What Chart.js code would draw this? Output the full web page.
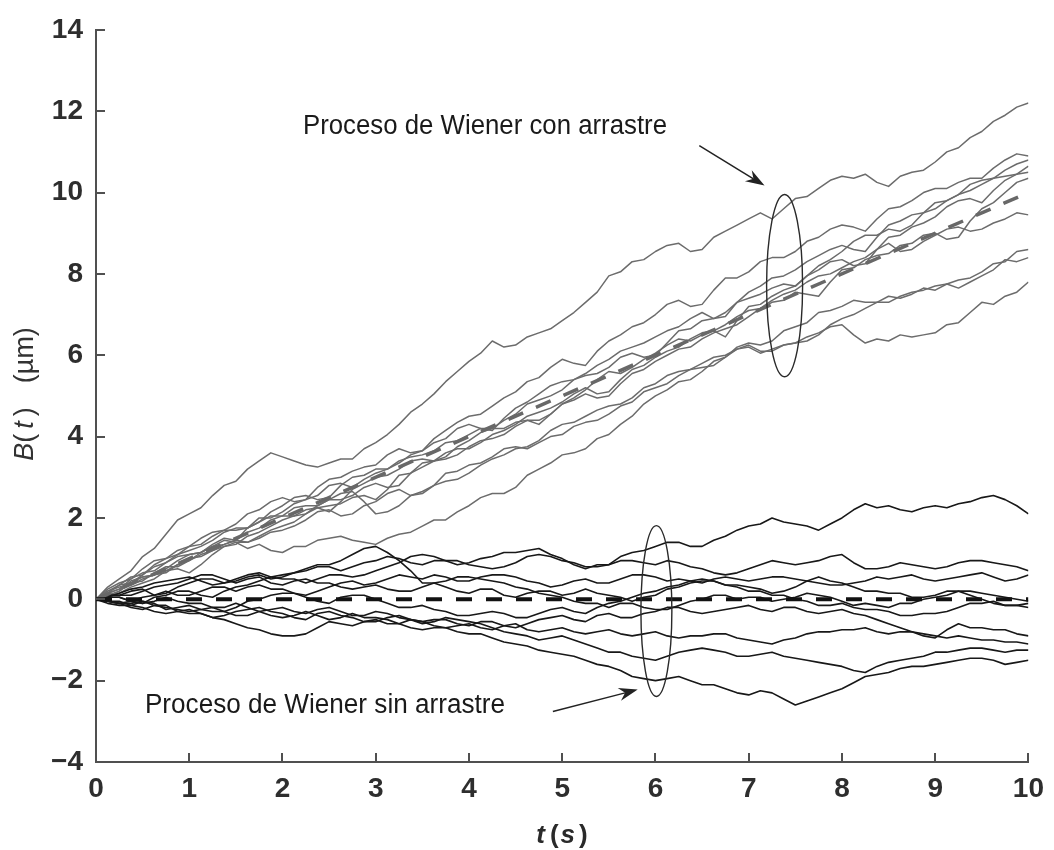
<!DOCTYPE html>
<html><head><meta charset="utf-8">
<script src="https://cdn.jsdelivr.net/npm/chart.js@4.4.1/dist/chart.umd.min.js"></script>
<style>html,body{margin:0;padding:0;background:#fff}#wrap{width:1054px;height:850px}</style>
</head><body><div id="wrap"><canvas id="c" width="1054" height="850"></canvas></div>
<script>
// ---- data (time in s, B(t) in µm) ----
const times = [0,0.125,0.25,0.375,0.5,0.625,0.75,0.875,1,1.125,1.25,1.375,1.5,1.625,1.75,1.875,2,2.125,2.25,2.375,2.5,2.625,2.75,2.875,3,3.125,3.25,3.375,3.5,3.625,3.75,3.875,4,4.125,4.25,4.375,4.5,4.625,4.75,4.875,5,5.125,5.25,5.375,5.5,5.625,5.75,5.875,6,6.125,6.25,6.375,6.5,6.625,6.75,6.875,7,7.125,7.25,7.375,7.5,7.625,7.75,7.875,8,8.125,8.25,8.375,8.5,8.625,8.75,8.875,9,9.125,9.25,9.375,9.5,9.625,9.75,9.875,10];

// Wiener process with drift (grey)
const drift1 = [0,0.3,0.5,0.7,1.05,1.25,1.6,1.95, 2.1,2.25,2.55,2.8,2.9,3.2,3.4,3.6, 3.5,3.4,3.3,3.25,3.35,3.45,3.45,3.7, 3.85,4.05,4.3,4.6,4.8,5.05,5.35,5.6, 5.85,6.05,6.35,6.2,6.25,6.45,6.55,6.65, 6.85,7.05,7.3,7.55,7.95,8.05,8.3,8.35, 8.55,8.7,8.75,8.55,8.6,8.9,9.05,9.2, 9.35,9.5,9.35,9.6,9.85,9.9,10.1,10.3, 10.4,10.35,10.45,10.25,10.15,10.4,10.5,10.55, 10.75,11.0,11.1,11.35,11.5,11.75,11.9,12.1, 12.2];
const drift2 = [0,0.15,0.35,0.55,0.6,0.8,0.9,1.05, 1.1,1.15,1.3,1.45,1.4,1.25,1.35,1.2, 1.15,1.3,1.3,1.45,1.5,1.55,1.45,1.4, 1.35,1.5,1.6,1.65,1.8,1.95,1.95,2.15, 2.3,2.5,2.6,2.6,2.75,3.05,3.2,3.35, 3.55,3.6,3.7,3.95,4.05,4.3,4.5,4.8, 5.0,5.15,5.35,5.4,5.6,5.85,5.95,6.15, 6.25,6.1,6.1,6.25,6.3,6.45,6.55,6.7, 6.75,6.5,6.3,6.4,6.35,6.5,6.45,6.5, 6.55,6.75,6.8,7.05,7.3,7.25,7.45,7.55, 7.8];
const drift3 = [0,0.25,0.4,0.5,0.75,0.95,1.0,1.2, 1.3,1.35,1.55,1.7,1.7,1.75,1.9,2.05, 2.05,2.25,2.3,2.3,2.45,2.6,2.65,2.4, 2.1,2.15,2.3,2.55,2.65,2.8,3.1,3.15, 3.3,3.35,3.5,3.7,3.75,3.7,3.85,4.0, 4.05,4.25,4.35,4.4,4.55,4.75,4.85,5.1, 5.2,5.3,5.5,5.65,5.7,5.75,5.95,6.2, 6.3,6.25,6.35,6.6,6.7,6.8,7.05,7.1, 7.2,7.35,7.3,7.3,7.45,7.4,7.5,7.65, 7.6,7.75,7.85,7.9,8.05,8.25,8.3,8.55, 8.6];
const drift4 = [0,0.05,0.2,0.4,0.55,0.6,0.7,0.85, 0.95,1.1,1.2,1.35,1.45,1.4,1.5,1.65, 1.7,1.8,1.95,2.15,2.2,2.05,2.1,2.3, 2.4,2.6,2.7,2.55,2.6,2.8,2.9,2.95, 3.1,3.3,3.45,3.55,3.7,3.75,3.9,4.15, 4.3,4.35,4.5,4.65,4.75,4.8,4.95,5.2, 5.3,5.5,5.6,5.65,5.8,5.95,6.0,6.15, 6.2,6.05,6.15,6.25,6.3,6.35,6.5,6.75, 6.9,7.0,7.15,7.3,7.3,7.45,7.55,7.6, 7.7,7.75,7.65,7.8,7.95,8.1,8.35,8.3, 8.4];
const drift5 = [0,0.2,0.35,0.4,0.6,0.85,1.0,1.1, 1.3,1.5,1.65,1.7,1.85,2.1,2.2,2.4, 2.5,2.4,2.45,2.75,2.95,3.0,3.15,3.25, 3.3,3.55,3.7,3.6,3.65,3.95,4.15,4.35, 4.5,4.55,4.75,4.95,5.1,5.35,5.45,5.7, 5.9,5.8,5.75,6.1,6.35,6.5,6.7,6.8, 7.0,7.25,7.35,7.2,7.25,7.6,7.9,7.9, 8.05,8.3,8.4,8.4,8.55,8.8,8.9,9.1, 9.2,9.15,9.05,9.35,9.6,9.65,9.8,10.0, 10.1,10.1,10.25,10.35,10.35,10.6,10.8,10.95, 10.9];
const drift6 = [0,0.1,0.2,0.45,0.55,0.6,0.75,0.95, 1.1,1.15,1.35,1.5,1.45,1.75,2.0,2.0, 2.15,2.35,2.45,2.55,2.8,2.85,2.75,2.95, 3.1,3.2,3.4,3.5,3.55,3.65,3.85,3.9, 4.05,4.2,4.2,4.4,4.55,4.8,4.9,5.0, 5.15,5.4,5.5,5.55,5.7,5.95,6.05,5.95, 6.0,6.3,6.6,6.65,6.85,6.9,7.05,7.3, 7.4,7.5,7.65,7.75,7.7,7.95,8.2,8.35, 8.55,8.8,8.95,8.95,9.1,9.05,9.2,9.5, 9.75,9.8,9.95,10.2,10.3,10.35,10.55,10.7, 10.8];
const drift7 = [0,0.15,0.25,0.4,0.45,0.65,0.8,0.8, 0.95,1.15,1.3,1.35,1.45,1.65,1.75,1.95, 2.05,2.05,2.2,2.25,2.15,2.4,2.7,2.85, 3.0,3.05,3.2,3.4,3.45,3.4,3.5,3.75, 3.9,4.1,4.2,4.2,4.35,4.4,4.3,4.55, 4.8,4.95,5.15,5.4,5.6,5.55,5.7,5.9, 6.05,6.25,6.4,6.35,6.5,6.6,6.45,6.85, 7.2,7.25,7.45,7.6,7.7,7.95,8.1,8.3, 8.35,8.2,8.25,8.6,8.9,8.95,9.15,9.25, 9.4,9.65,9.8,9.85,9.75,10.05,10.3,10.45, 10.65];
const drift8 = [0,0.1,0.15,0.3,0.4,0.5,0.7,0.75, 0.65,0.85,1.1,1.3,1.4,1.4,1.55,1.7, 1.8,1.9,2.1,2.25,2.3,2.35,2.5,2.55, 2.45,2.7,3.05,3.1,3.25,3.4,3.45,3.55, 3.75,3.9,3.95,4.05,4.25,4.4,4.4,4.55, 4.8,4.9,5.05,4.95,5.0,5.3,5.55,5.65, 5.85,6.0,6.15,6.2,6.4,6.55,6.65,6.75, 6.95,7.15,7.3,7.35,7.55,7.5,7.45,7.8, 8.1,8.15,8.35,8.45,8.5,8.7,8.75,8.95, 9.0,8.85,8.9,9.3,9.6,9.75,10.0,10.25, 10.35];
const drift9 = [0,0.2,0.3,0.35,0.5,0.6,0.65,0.85, 1.0,1.05,1.2,1.3,1.35,1.55,1.65,1.8, 1.95,2.05,2.1,2.3,2.45,2.45,2.55,2.75, 2.85,2.75,2.8,3.1,3.35,3.4,3.6,3.7, 3.7,3.85,4.05,4.15,4.3,4.5,4.6,4.7, 4.85,5.05,5.2,5.05,5.1,5.4,5.65,5.75, 5.95,6.1,6.2,6.4,6.55,6.6,6.75,6.95, 7.1,7.15,7.35,7.5,7.6,7.8,7.95,8.0, 8.15,8.3,8.4,8.6,8.75,8.55,8.6,8.8, 8.95,9.1,9.15,9.05,9.1,9.25,9.35,9.5, 9.45];
const drift10 = [0,0.15,0.25,0.5,0.65,0.7,0.9,1.1, 1.2,1.3,1.45,1.65,1.75,1.75,1.9,2.15, 2.3,2.5,2.55,2.45,2.5,2.8,3.0,3.05, 3.2,3.2,3.35,3.55,3.65,3.85,3.95,4.2, 4.3,4.2,4.15,4.45,4.7,4.85,5.05,5.25, 5.35,5.4,5.55,5.75,5.9,6.1,6.2,6.3, 6.45,6.6,6.7,6.9,7.05,6.9,6.95,7.3, 7.55,7.7,7.9,7.95,8.1,8.3,8.45,8.6, 8.7,8.6,8.55,8.9,9.2,9.3,9.45,9.5, 9.6,9.8,9.95,10.05,10.2,10.35,10.4,10.45, 10.5];

// Wiener process without drift (black)
const flat1 = [0,0.1,0.1,0.2,0.25,0.1,0.15,0.3, 0.4,0.5,0.5,0.4,0.45,0.55,0.6,0.5, 0.55,0.65,0.7,0.8,0.8,0.7,0.8,0.9, 0.95,1.05,1.0,0.9,0.85,0.95,0.95,0.85, 0.9,1.0,1.05,1.15,1.15,1.2,1.25,1.1, 1.0,0.85,0.75,0.85,0.85,1.05,1.15,1.2, 1.3,1.4,1.4,1.3,1.3,1.45,1.55,1.7, 1.8,1.85,2.0,1.9,1.85,1.8,1.7,1.85, 2.0,2.2,2.35,2.25,2.3,2.2,2.15,2.25, 2.3,2.25,2.35,2.4,2.5,2.55,2.45,2.3, 2.1];
const flat2 = [0,0.05,0.15,0.25,0.3,0.4,0.45,0.5, 0.55,0.45,0.35,0.4,0.5,0.6,0.65,0.55, 0.5,0.5,0.4,0.5,0.6,0.6,0.55,0.6, 0.7,0.8,0.9,1.05,1.1,1.05,0.95,0.95, 0.85,0.8,0.75,0.8,0.9,1.05,1.1,1.05, 0.95,0.9,0.8,0.8,0.85,0.95,0.95,0.9, 0.85,0.95,0.9,0.8,0.75,0.65,0.6,0.65, 0.75,0.85,0.95,0.9,0.85,0.9,0.95,1.05, 1.1,0.9,0.75,0.75,0.8,0.9,0.85,0.8, 0.75,0.8,0.9,0.95,0.95,0.9,0.85,0.8, 0.7];
const flat3 = [0,-0.05,-0.1,-0.05,0.05,0.1,0.2,0.1, 0.1,0.2,0.3,0.3,0.2,0.3,0.35,0.25, 0.25,0.15,0.1,0.2,0.3,0.4,0.45,0.35, 0.4,0.5,0.6,0.55,0.5,0.6,0.55,0.45, 0.45,0.55,0.6,0.6,0.55,0.45,0.4,0.3, 0.35,0.45,0.5,0.4,0.4,0.5,0.6,0.6, 0.55,0.45,0.5,0.45,0.4,0.5,0.55,0.5, 0.45,0.5,0.55,0.55,0.5,0.45,0.4,0.35, 0.35,0.4,0.45,0.55,0.5,0.55,0.6,0.5, 0.45,0.5,0.55,0.6,0.65,0.55,0.45,0.5, 0.6];
const flat4 = [0,0.05,0.05,-0.05,-0.1,0.05,0.1,0.2, 0.2,0.1,0.05,0.2,0.3,0.35,0.45,0.55, 0.6,0.65,0.75,0.85,0.85,0.95,1.1,1.25, 1.3,1.15,0.95,0.7,0.4,0.4,0.3,0.2, 0.15,0.25,0.25,0.1,0.05,0.15,0.2,0.2, 0.1,0.15,0.25,0.15,0.1,0.05,-0.05,0.05, 0.1,0.25,0.3,0.4,0.45,0.45,0.35,0.3, 0.2,0.2,0.1,0.1,0,-0.05,-0.15,-0.15, -0.1,-0.2,-0.25,-0.25,-0.3,-0.4,-0.4,-0.35, -0.35,-0.3,-0.2,-0.1,-0.1,-0.05,-0.15,-0.15, -0.1];
const flat5 = [0,-0.1,-0.15,-0.15,-0.05,-0.1,-0.25,-0.2, -0.15,-0.25,-0.3,-0.3,-0.2,-0.05,0,0.1, 0.15,0.15,0.05,-0.05,-0.1,0.05,0.1,0.1, 0,-0.1,-0.2,-0.2,-0.15,-0.25,-0.3,-0.4, -0.4,-0.35,-0.3,-0.35,-0.45,-0.45,-0.35,-0.25, -0.2,-0.3,-0.35,-0.2,-0.1,-0.05,0.05,0.15, 0.2,0.3,0.35,0.45,0.5,0.45,0.35,0.35, 0.3,0.25,0.15,0.2,0.3,0.45,0.55,0.45, 0.4,0.3,0.2,0.2,0.15,0.15,0.05,0.05, 0.1,0.2,0.2,0.1,0,-0.1,-0.15,-0.15, -0.2];
const flat6 = [0,0.1,0.1,0.1,0.2,0.3,0.35,0.4, 0.5,0.6,0.6,0.5,0.4,0.5,0.55,0.4, 0.35,0.45,0.5,0.4,0.4,0.3,0.25,0.3, 0.35,0.25,0.2,0.2,0.3,0.4,0.45,0.55, 0.55,0.5,0.45,0.4,0.3,0.25,0.15,0.1, 0.05,-0.05,-0.1,-0.1,-0.2,-0.1,-0.1,-0.2, -0.25,-0.25,-0.15,-0.05,0,0.1,0.1,0, 0.05,0.05,-0.05,0,0.05,0.15,0.1,0.05, -0.05,-0.15,-0.1,-0.15,-0.2,-0.1,-0.1,0, 0.05,0.1,0.2,0.2,0.15,0.1,0.05,0, -0.05];
const flat7 = [0,-0.05,-0.1,-0.2,-0.25,-0.15,-0.15,-0.3, -0.35,-0.35,-0.45,-0.4,-0.3,-0.25,-0.2,-0.3, -0.35,-0.45,-0.5,-0.35,-0.3,-0.4,-0.45,-0.55, -0.55,-0.45,-0.4,-0.5,-0.55,-0.5,-0.5,-0.6, -0.65,-0.55,-0.55,-0.65,-0.7,-0.6,-0.5,-0.45, -0.4,-0.5,-0.55,-0.4,-0.35,-0.45,-0.45,-0.35, -0.3,-0.2,-0.2,-0.3,-0.35,-0.3,-0.25,-0.2, -0.15,-0.25,-0.3,-0.2,-0.2,-0.3,-0.35,-0.3, -0.25,-0.35,-0.4,-0.5,-0.6,-0.7,-0.8,-0.9, -0.95,-0.75,-0.6,-0.7,-0.7,-0.75,-0.75,-0.85, -0.9];
const flat8 = [0,-0.05,-0.05,-0.15,-0.2,-0.3,-0.35,-0.3, -0.25,-0.35,-0.45,-0.5,-0.6,-0.7,-0.75,-0.85, -0.9,-0.9,-0.85,-0.7,-0.55,-0.6,-0.65,-0.55, -0.5,-0.6,-0.6,-0.5,-0.55,-0.65,-0.7,-0.65, -0.6,-0.7,-0.75,-0.65,-0.6,-0.75,-0.8,-0.75, -0.7,-0.8,-0.85,-0.8,-0.75,-0.85,-0.9,-0.85, -0.8,-0.9,-0.95,-0.9,-0.9,-0.85,-0.85,-0.95, -1.0,-1.05,-1.1,-1.0,-0.95,-0.85,-0.8,-0.8, -0.75,-0.75,-0.7,-0.8,-0.85,-0.8,-0.8,-0.85, -0.9,-0.95,-0.9,-0.95,-1.0,-1.0,-1.05,-1.05, -1.1];
const flat9 = [0,0.05,0.05,-0.05,-0.1,-0.05,0.05,-0.05, -0.1,-0.1,-0.2,-0.2,-0.1,-0.2,-0.3,-0.25, -0.2,-0.3,-0.35,-0.25,-0.2,-0.3,-0.4,-0.4, -0.3,-0.35,-0.45,-0.5,-0.6,-0.55,-0.45,-0.5, -0.55,-0.6,-0.7,-0.8,-0.85,-0.9,-1.0,-0.95, -0.9,-1.0,-1.1,-1.2,-1.3,-1.3,-1.4,-1.45, -1.5,-1.4,-1.3,-1.25,-1.2,-1.25,-1.3,-1.4, -1.4,-1.35,-1.3,-1.4,-1.45,-1.5,-1.55,-1.6, -1.65,-1.75,-1.8,-1.65,-1.55,-1.5,-1.45,-1.4, -1.3,-1.3,-1.25,-1.2,-1.2,-1.25,-1.3,-1.25, -1.25];
const flat10 = [0,-0.05,-0.1,-0.1,-0.05,-0.15,-0.2,-0.25, -0.3,-0.25,-0.2,-0.3,-0.4,-0.4,-0.3,-0.4, -0.45,-0.4,-0.3,-0.4,-0.5,-0.45,-0.35,-0.45, -0.45,-0.5,-0.6,-0.7,-0.75,-0.7,-0.7,-0.8, -0.85,-0.85,-0.95,-1.05,-1.1,-1.15,-1.25,-1.3, -1.35,-1.4,-1.5,-1.6,-1.65,-1.75,-1.9,-1.95, -2.0,-1.95,-1.9,-2.0,-2.1,-2.1,-2.2,-2.3, -2.35,-2.25,-2.3,-2.45,-2.6,-2.5,-2.4,-2.3, -2.2,-2.05,-1.9,-1.85,-1.8,-1.7,-1.65,-1.65, -1.6,-1.55,-1.5,-1.45,-1.45,-1.5,-1.6,-1.55, -1.5];

// ensemble mean lines
const meanT = [0, 10];
const meanDrift = [0, 10];
const meanFlat = [0, 0];

const xTicks = [0,1,2,3,4,5,6,7,8,9,10];
const yTicks = [-4,-2,0,2,4,6,8,10,12,14];

const annotationTexts = ['Proceso de Wiener con arrastre', 'Proceso de Wiener sin arrastre'];

// ---- styling / build ----
const FONT = "'Liberation Sans', Arial, Helvetica, sans-serif";
const GREY = '#6c6c6c', DARK = '#181818', AXIS = '#505050';

const driftSeries = [drift1,drift2,drift3,drift4,drift5,drift6,drift7,drift8,drift9,drift10];
const flatSeries = [flat1,flat2,flat3,flat4,flat5,flat6,flat7,flat8,flat9,flat10];
const toPts = (xs, ys) => xs.map((t, i) => ({x: t, y: ys[i]}));

const datasets = [];
datasets.push({data: toPts(meanT, meanFlat), borderColor: '#121212', borderWidth: 4, borderDash: [16, 14]});
datasets.push({data: toPts(meanT, meanDrift), borderColor: '#686868', borderWidth: 3.5, borderDash: [16, 14]});
flatSeries.forEach(s => datasets.push({data: toPts(times, s), borderColor: DARK, borderWidth: 1.6}));
driftSeries.forEach(s => datasets.push({data: toPts(times, s), borderColor: GREY, borderWidth: 1.5}));
datasets.forEach(d => Object.assign(d, {pointRadius: 0, fill: false, tension: 0, borderJoinStyle: 'round'}));

const annot = {
  ellipses: [{cx: 7.385, cy: 7.71, rx: 0.193, ry: 2.24}, {cx: 6.01, cy: -0.29, rx: 0.166, ry: 2.1}],
  arrows: [{x0: 6.47, y0: 11.15, x1: 7.17, y1: 10.17}, {x0: 4.9, y0: -2.76, x1: 5.81, y1: -2.22}],
  texts: [{text: annotationTexts[0], x: 2.22, y: 11.44, w: 364}, {text: annotationTexts[1], x: 0.525, y: -2.8, w: 360}]
};

function drawArrow(ctx, x0, y0, x1, y1) {
  const a = Math.atan2(y1 - y0, x1 - x0), c = Math.cos(a), s = Math.sin(a);
  const L = 19, W = 6.5, N = 13;
  ctx.beginPath(); ctx.moveTo(x0, y0); ctx.lineTo(x1 - N * c, y1 - N * s); ctx.stroke();
  ctx.beginPath();
  ctx.moveTo(x1, y1);
  ctx.lineTo(x1 - L * c + W * s, y1 - L * s - W * c);
  ctx.lineTo(x1 - N * c, y1 - N * s);
  ctx.lineTo(x1 - L * c - W * s, y1 - L * s + W * c);
  ctx.closePath(); ctx.fill();
}

function drawPieces(ctx, pieces, cx, cy) {
  let total = 0;
  pieces.forEach((p, i) => { ctx.font = p.f; p.w = ctx.measureText(p.t).width; total += p.w + (i < pieces.length - 1 ? (p.gap || 0) : 0); });
  let x = cx - total / 2;
  pieces.forEach(p => { ctx.font = p.f; ctx.fillText(p.t, x, cy); x += p.w + (p.gap || 0); });
}

const overlay = {
  id: 'overlay',
  afterDatasetsDraw(chart) {
    const {ctx, chartArea: ca, scales: {x, y}} = chart;
    ctx.save();
    // inward tick marks
    ctx.strokeStyle = AXIS; ctx.lineWidth = 2;
    xTicks.forEach(v => { const p = Math.round(x.getPixelForValue(v)); ctx.beginPath(); ctx.moveTo(p, ca.bottom); ctx.lineTo(p, ca.bottom - 9); ctx.stroke(); });
    yTicks.forEach(v => { const p = Math.round(y.getPixelForValue(v)); ctx.beginPath(); ctx.moveTo(ca.left, p); ctx.lineTo(ca.left + 9, p); ctx.stroke(); });
    // ellipses
    ctx.strokeStyle = '#2a2a2a'; ctx.lineWidth = 1.4;
    annot.ellipses.forEach(e => {
      const cx = x.getPixelForValue(e.cx), cy = y.getPixelForValue(e.cy);
      const rx = Math.abs(x.getPixelForValue(e.cx + e.rx) - cx), ry = Math.abs(y.getPixelForValue(e.cy + e.ry) - cy);
      ctx.beginPath(); ctx.ellipse(cx, cy, rx, ry, 0, 0, Math.PI * 2); ctx.stroke();
    });
    // arrows
    ctx.strokeStyle = '#222'; ctx.fillStyle = '#222'; ctx.lineWidth = 1.5;
    annot.arrows.forEach(a => drawArrow(ctx, x.getPixelForValue(a.x0), y.getPixelForValue(a.y0), x.getPixelForValue(a.x1), y.getPixelForValue(a.y1)));
    // annotation texts
    ctx.fillStyle = '#1a1a1a'; ctx.textBaseline = 'alphabetic'; ctx.textAlign = 'left';
    annot.texts.forEach(t => {
      ctx.font = `27px ${FONT}`;
      const m = ctx.measureText(t.text).width;
      ctx.save();
      ctx.translate(x.getPixelForValue(t.x), y.getPixelForValue(t.y));
      ctx.scale(t.w / m, 1);
      ctx.fillText(t.text, 0, 0);
      ctx.restore();
    });
    ctx.restore();
  },
  afterDraw(chart) {
    const {ctx, chartArea: ca} = chart;
    ctx.save();
    ctx.fillStyle = '#333'; ctx.textBaseline = 'alphabetic'; ctx.textAlign = 'left';
    // y axis title: B(t) (µm)
    ctx.save();
    ctx.translate(33, (ca.top + ca.bottom) / 2 - 2);
    ctx.rotate(-Math.PI / 2);
    const it = `italic 27px ${FONT}`, nm = `27px ${FONT}`;
    drawPieces(ctx, [
      {t: 'B', f: it}, {t: '(', f: nm, gap: 5}, {t: 't', f: it, gap: 5}, {t: ')', f: nm, gap: 24}, {t: '(\u00b5m)', f: nm}
    ], 0, 0);
    ctx.restore();
    // x axis title: t(s)
    ctx.fillStyle = '#2a2a2a';
    const it2 = `italic bold 26px ${FONT}`, nm2 = `bold 26px ${FONT}`;
    drawPieces(ctx, [
      {t: 't', f: it2, gap: 5}, {t: '(', f: nm2, gap: 2}, {t: 's', f: it2, gap: 4}, {t: ')', f: nm2}
    ], 562, 843);
    ctx.restore();
  }
};

const tickFont = {family: FONT, size: 28, weight: 'bold'};

new Chart(document.getElementById('c'), {
  type: 'line',
  data: {datasets},
  options: {
    responsive: false, animation: false, devicePixelRatio: 1,
    layout: {padding: {top: 24, right: 24, left: 0, bottom: 0}},
    plugins: {legend: {display: false}, tooltip: {enabled: false}},
    scales: {
      x: {
        type: 'linear', min: 0, max: 10,
        afterBuildTicks: s => { s.ticks = xTicks.map(v => ({value: v})); },
        ticks: {font: tickFont, color: '#2e2e2e', padding: 10, maxRotation: 0, autoSkip: false},
        grid: {display: false, drawTicks: false},
        border: {display: true, color: AXIS, width: 2},
        afterFit: s => { s.height = 88; }
      },
      y: {
        type: 'linear', min: -4, max: 14,
        afterBuildTicks: s => { s.ticks = yTicks.map(v => ({value: v})); },
        ticks: {font: tickFont, color: '#2e2e2e', padding: 13, autoSkip: false,
          callback: v => String(v).replace('-', '\u2212')},
        grid: {display: false, drawTicks: false},
        border: {display: true, color: AXIS, width: 2},
        afterFit: s => { s.width = 96; }
      }
    }
  },
  plugins: [overlay]
});
</script>
</body></html>
